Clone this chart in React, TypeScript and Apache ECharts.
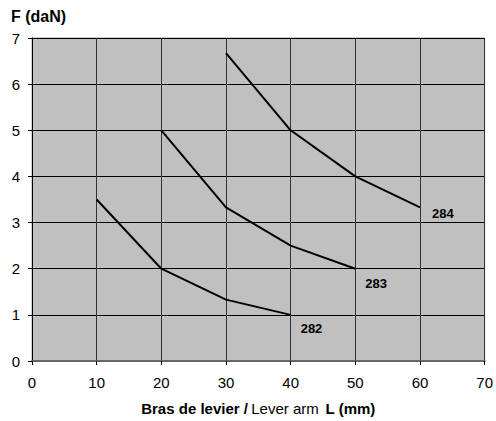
import React, { useEffect, useRef } from "react";
import * as echarts from "echarts";

const xTicks = [0, 10, 20, 30, 40, 50, 60, 70];
const s282: [number, number][] = [[10, 3.5], [20, 2], [30, 1.33], [40, 1]];
const s283: [number, number][] = [[20, 5], [30, 3.33], [40, 2.5], [50, 2]];
const s284: [number, number][] = [[30, 6.67], [40, 5], [50, 4], [60, 3.33]];
const seriesNames = ["282", "283", "284"];

export default function App() {
  const ref = useRef<HTMLDivElement>(null);
  useEffect(() => {
    const chart = echarts.init(ref.current!, undefined, { renderer: "svg" });
    const font = "'Liberation Sans', Arial, sans-serif";
    const mk = (name: string, data: [number, number][], off: [number, number]) => ({
      name,
      type: "line",
      data,
      symbol: "none",
      lineStyle: { color: "#000", width: 2 },
      endLabel: {
        show: true,
        formatter: name,
        distance: 0,
        offset: off,
        fontFamily: font,
        fontWeight: "bold",
        fontSize: 13,
        color: "#000",
      },
    });
    chart.setOption({
      animation: false,
      grid: { left: 32, right: 9, top: 38, bottom: 58, show: true, backgroundColor: "#C0C0C0", borderColor: "#A0A0A0", borderWidth: 1 },
      xAxis: {
        type: "value",
        min: xTicks[0],
        max: xTicks[xTicks.length - 1],
        interval: 10,
        axisLine: { show: true, onZero: false, lineStyle: { color: "#666", width: 2 } },
        axisTick: { show: true, length: 4, lineStyle: { color: "#000" } },
        axisLabel: { fontFamily: font, fontSize: 15, color: "#000", margin: 14 },
        splitLine: { show: true, lineStyle: { color: "#333", width: 1 } },
        name: "{b|Bras de levier /} {n|Lever arm}  {b|L (mm)}",
        nameLocation: "middle",
        nameGap: 40,
        nameTextStyle: {
          rich: {
            b: { fontFamily: font, fontWeight: "bold", fontSize: 15, color: "#000" },
            n: { fontFamily: font, fontSize: 15, color: "#000" },
          },
        },
      },
      yAxis: {
        type: "value",
        min: 0,
        max: 7,
        interval: 1,
        axisLine: { show: true, lineStyle: { color: "#000", width: 1 } },
        axisTick: { show: true, length: 4, lineStyle: { color: "#000" } },
        axisLabel: { fontFamily: font, fontSize: 15, color: "#000", margin: 12 },
        splitLine: { show: true, lineStyle: { color: "#000", width: 1 } },
      },
      graphic: [
        {
          type: "text",
          left: 11,
          top: 8,
          style: { text: "F (daN)", fontFamily: font, fontWeight: "bold", fontSize: 16, fill: "#000" },
        },
      ],
      series: [
        mk(seriesNames[0], s282, [10, 14]),
        mk(seriesNames[1], s283, [10, 15]),
        mk(seriesNames[2], s284, [12, 6]),
      ],
    });
    return () => chart.dispose();
  }, []);
  return <div ref={ref} style={{ position: "absolute", left: 0, top: 0, width: 496, height: 421 }} />;
}
